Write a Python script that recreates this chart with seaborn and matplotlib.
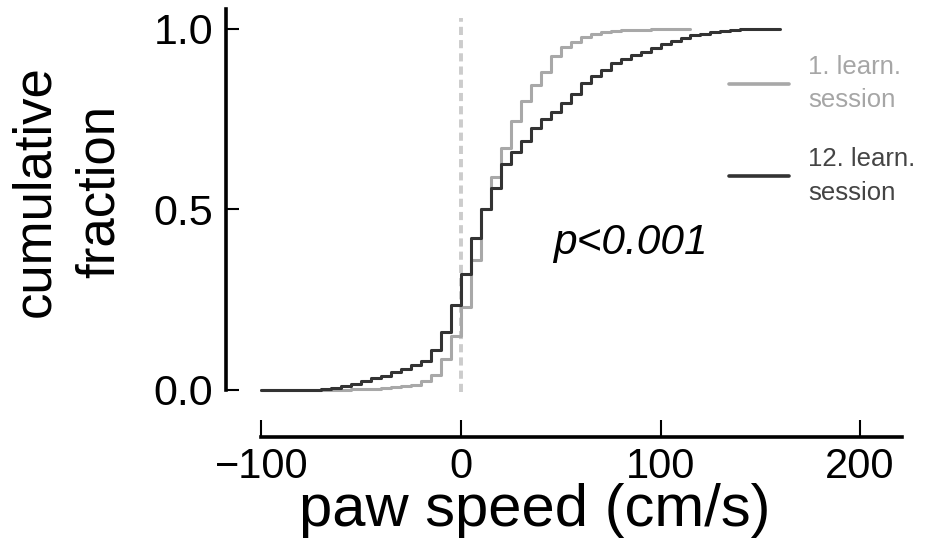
import matplotlib
matplotlib.use("Agg")
from matplotlib import pyplot as plt
import seaborn as sns

speed_s1 = [-100, -95, -90, -85, -80, -75, -70, -65, -60, -55, -50, -45, -40, -35,
            -30, -25, -20, -15, -10, -5, 0, 5, 10, 15, 20, 25, 30, 35, 40, 45, 50,
            55, 60, 65, 70, 75, 80, 85, 90, 95, 100, 105, 110, 115]
cdf_s1 = [0, 0, 0, 0, 0, 0, 0, 0.001, 0.001, 0.002, 0.003, 0.004, 0.006, 0.008,
          0.011, 0.015, 0.024, 0.042, 0.085, 0.15, 0.23, 0.36, 0.50, 0.59, 0.67,
          0.745, 0.80, 0.845, 0.88, 0.925, 0.95, 0.965, 0.977, 0.986, 0.991,
          0.994, 0.996, 0.997, 0.998, 0.999, 0.999, 1.0, 1.0, 1.0]

speed_s12 = [-100, -95, -90, -85, -80, -75, -70, -65, -60, -55, -50, -45, -40, -35,
             -30, -25, -20, -15, -10, -5, 0, 5, 10, 15, 20, 25, 30, 35, 40, 45, 50,
             55, 60, 65, 70, 75, 80, 85, 90, 95, 100, 105, 110, 115, 120, 125, 130,
             135, 140, 145, 150, 155, 160]
cdf_s12 = [0, 0, 0, 0, 0, 0, 0.002, 0.005, 0.01, 0.017, 0.025, 0.033, 0.04, 0.05,
           0.058, 0.068, 0.08, 0.11, 0.16, 0.235, 0.32, 0.42, 0.50, 0.56, 0.625,
           0.66, 0.69, 0.725, 0.75, 0.77, 0.795, 0.82, 0.85, 0.87, 0.885, 0.905,
           0.918, 0.928, 0.937, 0.948, 0.958, 0.966, 0.975, 0.982, 0.987, 0.991,
           0.994, 0.997, 0.999, 1.0, 1.0, 1.0, 1.0]

labels = ["1. learn.\nsession", "12. learn.\nsession"]
colors = ["#a8a8a8", "#333333"]
text_colors = ["#a6a6a6", "#444444"]

sns.set_style("ticks")
plt.rcParams["font.family"] = ["Liberation Sans", "DejaVu Sans"]
plt.rcParams["text.color"] = "black"
plt.rcParams["axes.labelcolor"] = "black"
plt.rcParams["xtick.color"] = "black"
plt.rcParams["ytick.color"] = "black"

fig = plt.figure(figsize=(9.41, 5.39), dpi=100)
ax = fig.add_axes([257.5 / 941, 141.8 / 539, 642.5 / 941, 388.1 / 539])

sns.lineplot(x=speed_s1, y=cdf_s1, ax=ax, drawstyle="steps-post",
             color=colors[0], lw=2.2, label=labels[0])
sns.lineplot(x=speed_s12, y=cdf_s12, ax=ax, drawstyle="steps-post",
             color=colors[1], lw=2.2, label=labels[1])

ax.axvline(0, ymin=0.014, ymax=0.977, color="#cccccc", lw=2.8,
           ls=(0, (2.1, 1.3)), zorder=0)

ax.set_xlim(-102, 220)
ax.set_ylim(-0.02, 1.055)
ax.set_xticks([-100, 0, 100, 200])
ax.set_yticks([0, 0.5, 1.0])
ax.set_yticklabels(["0.0", "0.5", "1.0"])

sns.despine(ax=ax, offset={"left": 22.7, "bottom": 28.7})
ax.spines["left"].set_bounds(0, 1.055)
ax.spines["bottom"].set_bounds(-100, 221)
for s in ["left", "bottom"]:
    ax.spines[s].set_linewidth(2.6)
    ax.spines[s].set_color("black")

ax.tick_params(axis="x", direction="in", length=12, width=1.5, pad=7,
               labelsize=30, colors="black")
ax.tick_params(axis="y", direction="in", length=9, width=1.5, pad=9,
               labelsize=31, colors="black")

ax.set_xlabel("paw speed (cm/s)", fontsize=43, color="black")
ax.xaxis.set_label_coords(0.432, -0.222)
ax.set_ylabel("cumulative\nfraction", fontsize=38, va="center", linespacing=1.38,
              color="black")
ax.yaxis.set_label_coords(-0.296, 0.531)

ax.text(46, 0.407, "p<0.001", fontsize=30.5, style="italic", va="center",
        ha="left", color="black")

leg = ax.legend(loc="upper left", bbox_to_anchor=(0.734, 0.882), frameon=False,
                fontsize=18.5, handlelength=2.35, handletextpad=0.72,
                labelspacing=1.35, borderpad=0, borderaxespad=0)
for t, c in zip(leg.get_texts(), text_colors):
    t.set_color(c)
    t.set_linespacing(1.5)
for h in leg.get_lines():
    h.set_linewidth(2.6)

fig.savefig("out.png", dpi=100)
